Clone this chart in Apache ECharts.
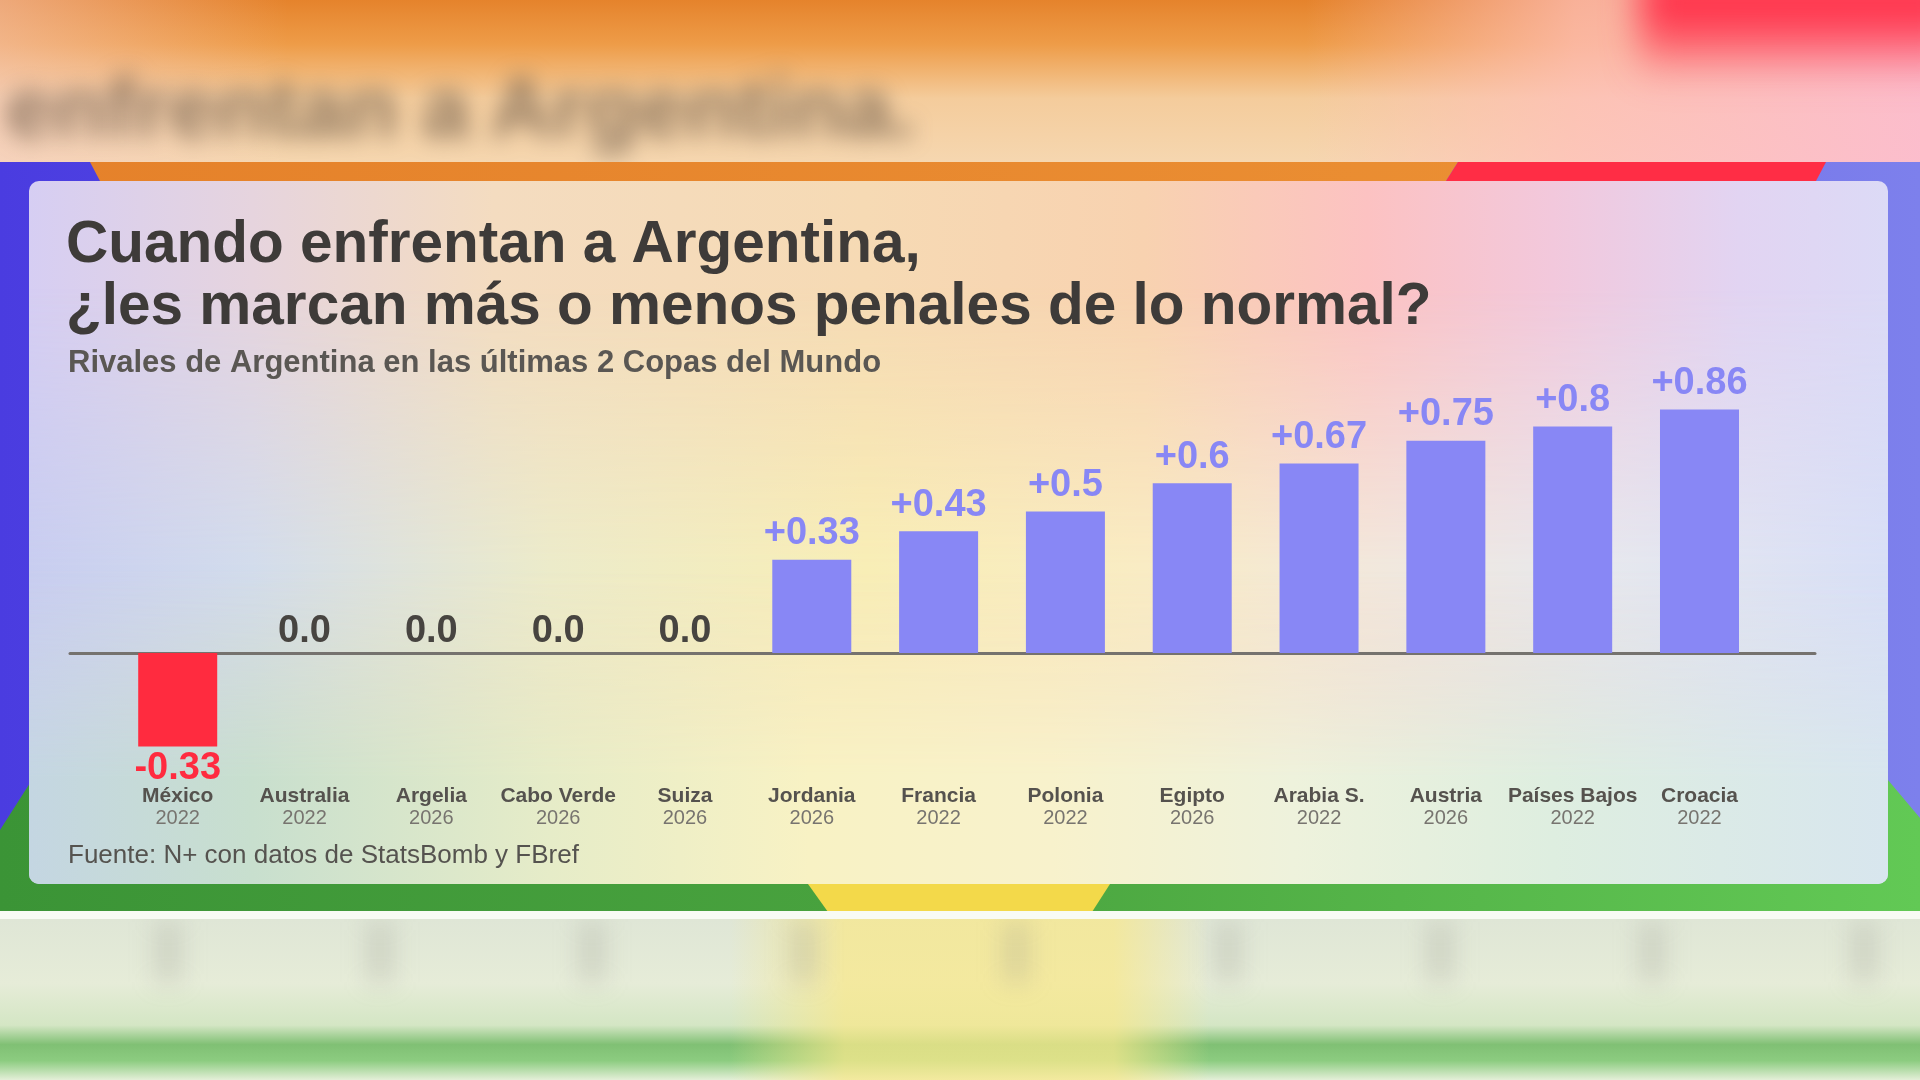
<!DOCTYPE html>
<html>
<head>
<meta charset="utf-8">
<script src="https://cdn.jsdelivr.net/npm/echarts@6/dist/echarts.min.js"></script>
<style>
  html, body { margin: 0; padding: 0; width: 1920px; height: 1080px; overflow: hidden; background: #f3f0e4; }
  .layer { position: absolute; }
  #topband { left: 0; top: 0; width: 1920px; height: 170px;
    background: linear-gradient(180deg, #e5832c 0%, #ee9c48 26%, #f4cc9c 58%, #f6d8b2 100%);
  }
  #topband2 { left: 0; top: 0; width: 1920px; height: 170px;
    background: linear-gradient(90deg, rgba(246,206,200,0.5) 0%, rgba(0,0,0,0) 15%, rgba(0,0,0,0) 68%, rgba(255,192,188,0.75) 82%, rgba(252,188,206,0.95) 100%);
  }
  #topred { left: 1640px; top: -30px; width: 320px; height: 110px; filter: blur(18px);
    background: linear-gradient(180deg, rgba(255,45,70,1) 0%, rgba(255,45,70,0.9) 45%, rgba(255,80,100,0) 100%); }
  #ghost { left: 6px; top: 58px; font: bold 86px 'Liberation Sans', Arial, sans-serif; color: rgba(105,88,70,0.72); filter: blur(11px); white-space: nowrap; }
  #frameTop { left: 0; top: 162px; width: 1920px; height: 750px; background: linear-gradient(90deg, #4a3ce0 0%, #5a4fe4 30%, #7d80ec 100%); }
  #frameBot { left: 0; top: 780px; width: 1920px; height: 132px; background: linear-gradient(90deg, #3b9436 0%, #4aa43f 50%, #62c955 100%);
     clip-path: polygon(0 50px, 30px 3px, 1888px 0, 1920px 38px, 1920px 132px, 0 132px); }
  #stripeOrange { left: 0; top: 162px; width: 1920px; height: 19px; background: linear-gradient(90deg, #e5812a, #ec9235);
     clip-path: polygon(90px 0, 1458px 0, 1446px 19px, 100px 19px); }
  #stripeRed { left: 0; top: 162px; width: 1920px; height: 19px; background: #ff2d45;
     clip-path: polygon(1458px 0, 1826px 0, 1816px 19px, 1446px 19px); }
  #stripeYellow { left: 0; top: 884px; width: 1920px; height: 28px; background: #f3d94a;
     clip-path: polygon(808px 0, 1110px 0, 1092px 28px, 828px 28px); }
  #whiteline { left: 0; top: 911px; width: 1920px; height: 8px; background: #f8fbf4; }
  #bottomband { left: 0; top: 919px; width: 1920px; height: 161px;
     background:
      linear-gradient(90deg, rgba(0,0,0,0) 0%, rgba(0,0,0,0) 38%, rgba(248,232,140,0.75) 44%, rgba(248,232,140,0.75) 58%, rgba(0,0,0,0) 63%),
      linear-gradient(180deg, #dfe6d6 0%, #e6ecd8 40%, #d4e6c4 66%, #80c074 78%, #8ccc80 88%, #e4efd8 100%);
  }
  #bottomghost { left: 0; top: 922px; width: 1920px; height: 60px; filter: blur(12px);
     background: repeating-linear-gradient(90deg, rgba(150,150,140,0) 0px, rgba(150,150,140,0) 150px, rgba(150,150,140,0.38) 168px, rgba(150,150,140,0) 186px, rgba(150,150,140,0) 212px);
  }
  #card { left: 29px; top: 181px; width: 1859px; height: 703px; border-radius: 10px; overflow: hidden;
     background: linear-gradient(90deg, #d6cef3 0%, #e6d4de 12%, #f4dcc0 25%, #f6dab4 45%, #f8d2b0 60%, #fcc2c2 72%, #f2c8dc 82%, #e2d4f2 92%, #dcdaf6 100%);
  }
  #cardMid { left: 0; top: 0; width: 1859px; height: 703px;
     background: linear-gradient(90deg, #c8cdf0 0%, #d2dcec 12%, #ecebca 28%, #f8eeb6 45%, #f9ecc4 60%, #f2e8dc 72%, #e6e8ee 85%, #d8dff6 100%);
     -webkit-mask-image: linear-gradient(180deg, rgba(0,0,0,0) 15%, rgba(0,0,0,1) 55%, rgba(0,0,0,0) 100%);
     mask-image: linear-gradient(180deg, rgba(0,0,0,0) 15%, rgba(0,0,0,1) 55%, rgba(0,0,0,0) 100%);
  }
  #cardBot { left: 0; top: 0; width: 1859px; height: 703px;
     background: linear-gradient(90deg, #c4d6e2 0%, #c8dfce 12%, #e6ecc8 28%, #f8f2c4 42%, #f8f2cc 55%, #eef2dc 68%, #deeee0 82%, #d8e6ee 100%);
     -webkit-mask-image: linear-gradient(180deg, rgba(0,0,0,0) 55%, rgba(0,0,0,1) 85%);
     mask-image: linear-gradient(180deg, rgba(0,0,0,0) 55%, rgba(0,0,0,1) 85%);
  }
  #chart { left: 0; top: 0; width: 1920px; height: 1080px; }
</style>
</head>
<body>
<div class="layer" id="topband"></div>
<div class="layer" id="topband2"></div>
<div class="layer" id="topred"></div>
<div class="layer" id="ghost">enfrentan a Argentina.</div>
<div class="layer" id="bottomband"></div>
<div class="layer" id="bottomghost"></div>
<div class="layer" id="frameTop"></div>
<div class="layer" id="frameBot"></div>
<div class="layer" id="stripeOrange"></div>
<div class="layer" id="stripeRed"></div>
<div class="layer" id="stripeYellow"></div>
<div class="layer" id="whiteline"></div>
<div class="layer" id="card"><div class="layer" id="cardMid"></div><div class="layer" id="cardBot"></div></div>
<div class="layer" id="chart"></div>
<script>
// ---- Data ----
const categories = ['México', 'Australia', 'Argelia', 'Cabo Verde', 'Suiza', 'Jordania', 'Francia', 'Polonia', 'Egipto', 'Arabia S.', 'Austria', 'Países Bajos', 'Croacia'];
const years = ['2022', '2022', '2026', '2026', '2026', '2026', '2022', '2022', '2026', '2022', '2026', '2022', '2022'];
const values = [-0.33, 0.0, 0.0, 0.0, 0.0, 0.33, 0.43, 0.5, 0.6, 0.67, 0.75, 0.8, 0.86];
const valueLabels = ['-0.33', '0.0', '0.0', '0.0', '0.0', '+0.33', '+0.43', '+0.5', '+0.6', '+0.67', '+0.75', '+0.8', '+0.86'];

const titleText = 'Cuando enfrentan a Argentina,\n¿les marcan más o menos penales de lo normal?';
const subtitleText = 'Rivales de Argentina en las últimas 2 Copas del Mundo';
const sourceText = 'Fuente: N+ con datos de StatsBomb y FBref';

const POS = '#8887f5', NEG = '#ff2b3f', ZERO = '#474440';
const FONT = "'Liberation Sans', Arial, sans-serif";

const seriesData = values.map((v, i) => {
  const c = v < 0 ? NEG : (v === 0 ? ZERO : POS);
  return {
    value: v,
    itemStyle: { color: v < 0 ? NEG : POS },
    label: { color: c, position: v < 0 ? 'bottom' : 'top', distance: v > 0 ? 7 : 3 }
  };
});

const chart = echarts.init(document.getElementById('chart'), null, { renderer: 'canvas' });
const gridTop = 370, gridH = 410.4;
chart.setOption({
  backgroundColor: 'transparent',
  animation: false,
  title: [
    { text: titleText, left: 61, top: 210,
      textStyle: { fontFamily: FONT, fontWeight: 'bold', fontSize: 58.5, lineHeight: 62, color: '#3e3b39' } },
    { text: subtitleText, left: 63, top: 342,
      textStyle: { fontFamily: FONT, fontWeight: 'bold', fontSize: 31, lineHeight: 32, color: '#5a5753' } },
    { text: sourceText, left: 63, top: 838,
      textStyle: { fontFamily: FONT, fontWeight: 'normal', fontSize: 26, lineHeight: 26, color: '#55534f' } }
  ],
  grid: [
    { left: 114.3, right: 157.1, top: gridTop, height: gridH },
    { left: 70, right: 105, top: gridTop, height: gridH }
  ],
  xAxis: [
    { type: 'category', gridIndex: 0, data: categories,
      axisLine: { show: false, onZero: false }, axisTick: { show: false },
      axisLabel: { interval: 0, margin: 5,
        formatter: (v, i) => '{n|' + v + '}\n{y|' + years[i] + '}',
        rich: {
          n: { fontFamily: FONT, fontWeight: 'bold', fontSize: 21, lineHeight: 22, color: '#55524e' },
          y: { fontFamily: FONT, fontWeight: 'normal', fontSize: 20, lineHeight: 22, color: '#77746f' }
        } } },
    { type: 'value', gridIndex: 1, min: 0, max: 1,
      axisLine: { show: true, onZero: true, lineStyle: { color: '#75726e', width: 3 } },
      axisTick: { show: false }, axisLabel: { show: false }, splitLine: { show: false } }
  ],
  yAxis: [
    { type: 'value', gridIndex: 0, min: -0.45, max: 1.0, show: false },
    { type: 'value', gridIndex: 1, min: -0.45, max: 1.0, show: false }
  ],
  series: [{
    type: 'bar', xAxisIndex: 0, yAxisIndex: 0, barWidth: 79, z: 1,
    data: seriesData,
    label: { show: true, fontFamily: FONT, fontWeight: 'bold', fontSize: 38,
      formatter: (p) => valueLabels[p.dataIndex] }
  }]
});
</script>
</body>
</html>
